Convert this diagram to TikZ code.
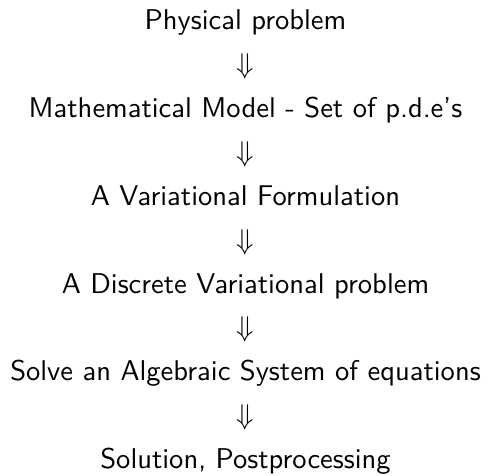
\documentclass[tikz,border=0pt]{standalone}
\usepackage{amsmath}
\usetikzlibrary{positioning}

\begin{document}
\begin{tikzpicture}[node distance=5.95pt, font=\sffamily,
  stage/.style={inner sep=0pt, text height=7pt, text depth=2pt},
  down/.style={stage}]
\useasboundingbox (-85.95pt,-158.3pt) rectangle (85.95pt,8pt);
\node[stage] (phys) {Physical problem};
\node[down, below=of phys] (d1) {$\Downarrow$};
\node[stage, below=of d1] (model) {Mathematical Model - Set of p.d.e's};
\node[down, below=of model] (d2) {$\Downarrow$};
\node[stage, below=of d2] (var) {A Variational Formulation};
\node[down, below=of var] (d3) {$\Downarrow$};
\node[stage, below=of d3] (disc) {A Discrete Variational problem};
\node[down, below=of disc] (d4) {$\Downarrow$};
\node[stage, below=of d4] (solve) {Solve an Algebraic System of equations};
\node[down, below=of solve] (d5) {$\Downarrow$};
\node[stage, below=of d5] (post) {Solution, Postprocessing};
\end{tikzpicture}
\end{document}
